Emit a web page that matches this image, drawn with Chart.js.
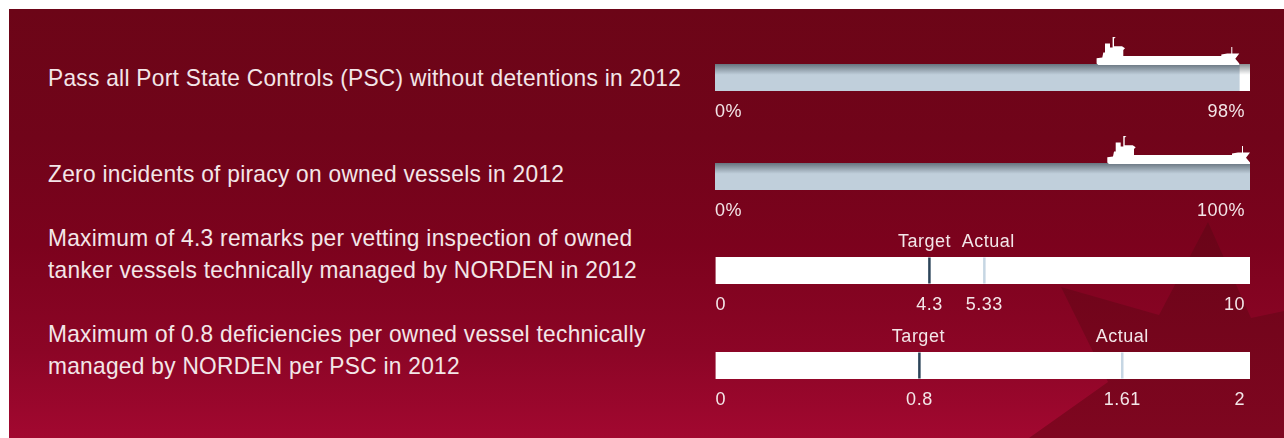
<!DOCTYPE html>
<html>
<head>
<meta charset="utf-8">
<script src="https://cdn.jsdelivr.net/npm/chart.js@4"></script>
<style>
    html, body { margin: 0; padding: 0; background: #fff; width: 1284px; height: 438px; overflow: hidden; }
    #panel {
        position: absolute; left: 9px; top: 9px; width: 1275px; height: 429px; overflow: hidden;
        background: linear-gradient(to bottom, #6c0517 0%, #71041a 30%, #7c021d 55%, #8c0526 80%, #a20830 100%);
    }
    #star {
        position: absolute; left: 0; top: 0; width: 1275px; height: 429px;
        background: linear-gradient(to bottom, #6a0418 50%, #7f0620 100%);
        clip-path: polygon(1199px 213px, 1242px 309px, 1275px 302px, 1275px 429px, 1020px 429px, 1099px 373px, 1052px 278px, 1150px 306px);
    }
    canvas { position: absolute; left: 700px; }
    .goal {
        position: absolute; left: 48px; color: #f3e6e8; font: 400 24px/32px "Liberation Sans", sans-serif;
        letter-spacing: 0.3px; white-space: pre; transform: scaleX(0.946); transform-origin: left top;
    }
</style>
</head>
<body>
<div id="panel"><div id="star"></div></div>
<script>
// KPI text and scale values, one entry per row
const goalLabels = [
    "Pass all Port State Controls (PSC) without detentions in 2012",
    "Zero incidents of piracy on owned vessels in 2012",
    "Maximum of 4.3 remarks per vetting inspection of owned\ntanker vessels technically managed by NORDEN in 2012",
    "Maximum of 0.8 deficiencies per owned vessel technically\nmanaged by NORDEN per PSC in 2012"
];
const achievedValues = [98, 100];
const targetValues = [4.3, 0.8];
const actualValues = [5.33, 1.61];
const scaleStarts = [0, 0, 0.29, -0.014];
const scaleEnds = [100, 100, 10.31, 2.12];
const tickValues = [[0, 98], [0, 100], [0, 4.3, 5.33, 10], [0, 0.8, 1.61, 2]];
const tickSuffixes = ["%", "%", "", ""];
const markerCaptions = ["Target", "Actual"];

// Vertical spot of each row's bar (top edge) and of the text beside it
const barTops = [64, 163, 257, 352];
const goalTops = [62, 158, 222, 318];
const captionNudges = [[-5, 4], [-1, 0]]; // captions sit slightly off their marker

const PAD_TOP = 30, PAD_BOTTOM = 32, PAD_LEFT = 15, PAD_RIGHT = 34, BAR_HEIGHT = 27;
const TEXT_COLOR = "#f3e6e8";
const LABEL_FONT = "400 18px 'Liberation Sans', sans-serif";

// Tanker silhouette, bow tip at 0,0 and waterline on the top of the bar
const shipPath = new Path2D("M0 0 L0 -1.5 L-4 -6.2 L0 -11.5 L-7 -11.5 L-7 -18 L-8 -18 L-8 -11.5 L-12 -11.5 L-18 -10.5 L-18 -9 L-116 -9 L-116 -15 L-114.300 -16.800 L-117.300 -18.800 L-125.300 -18.800 L-125.300 -26.500 L-123.500 -27.500 L-125.300 -28 L-126.700 -28 L-126.700 -17.500 L-129.300 -17.500 L-129.300 -21.500 L-134.300 -21.500 L-134.300 -12.500 L-136 -12.500 L-137 -7.500 L-142.700 -6.800 L-142.700 -1.500 L-141 0 Z");

function barGradient(context, colorTop, colorBottom) {
    const area = context.chart.chartArea;
    if (!area) return colorBottom;
    const gradient = context.chart.ctx.createLinearGradient(0, area.top, 0, area.bottom);
    gradient.addColorStop(0, colorTop);
    gradient.addColorStop(0.4, colorBottom);
    gradient.addColorStop(1, colorBottom);
    return gradient;
}

// Draws tick labels, marker captions and the ship from the x scale of each chart
const rowDecor = {
    id: "rowDecor",
    afterDraw(chart, args, opts) {
        const ctx = chart.ctx;
        const xScale = chart.scales.x;
        const area = chart.chartArea;
        ctx.save();
        ctx.fillStyle = TEXT_COLOR;
        ctx.font = LABEL_FONT;
        ctx.letterSpacing = "0.5px";
        ctx.textBaseline = "middle";
        xScale.ticks.forEach((tick, i) => {
            const last = xScale.ticks.length - 1;
            let x = xScale.getPixelForValue(tick.value);
            ctx.textAlign = "center";
            if (i === 0) { ctx.textAlign = "left"; x = area.left; }
            if (i === last) { ctx.textAlign = "right"; x = area.right - 5; }
            ctx.fillText(tick.label, x, area.bottom + 21);
        });
        if (opts.markers) {
            ctx.textAlign = "center";
            opts.markers.forEach((value, i) => {
                const x = xScale.getPixelForValue(value) + opts.nudges[i];
                ctx.fillText(markerCaptions[i], x, area.top - 15);
            });
        }
        if (opts.shipAt !== undefined) {
            ctx.translate(xScale.getPixelForValue(opts.shipAt), area.top + 1);
            ctx.fillStyle = "#ffffff";
            ctx.fill(shipPath);
        }
        ctx.restore();
    }
};

function rowOptions(row, stacked, pluginOptions) {
    return {
        indexAxis: "y",
        responsive: false,
        animation: false,
        layout: { padding: { top: PAD_TOP, bottom: PAD_BOTTOM, left: PAD_LEFT, right: PAD_RIGHT } },
        scales: {
            x: {
                display: false,
                stacked,
                min: scaleStarts[row],
                max: scaleEnds[row],
                afterBuildTicks: scale => { scale.ticks = tickValues[row].map(value => ({ value })); },
                ticks: { autoSkip: false, callback: value => value + tickSuffixes[row] }
            },
            y: { display: false, stacked }
        },
        plugins: { legend: { display: false }, tooltip: { enabled: false }, rowDecor: pluginOptions }
    };
}

function addCanvas(row) {
    const canvas = document.createElement("canvas");
    canvas.width = 584;
    canvas.height = PAD_TOP + BAR_HEIGHT + PAD_BOTTOM;
    canvas.style.top = (barTops[row] - PAD_TOP) + "px";
    document.body.appendChild(canvas);
    return canvas.getContext("2d");
}

// Rows 0 and 1: share achieved, with the remainder up to the scale end
achievedValues.forEach((value, row) => {
    new Chart(addCanvas(row), {
        type: "bar",
        data: {
            labels: [goalLabels[row]],
            datasets: [
                { data: [value], barPercentage: 1, categoryPercentage: 1,
                  backgroundColor: c => barGradient(c, "#67737e", "#c0cfdb") },
                { data: [scaleEnds[row] - value], barPercentage: 1, categoryPercentage: 1,
                  backgroundColor: c => barGradient(c, "#8b8f93", "#ffffff") }
            ]
        },
        options: rowOptions(row, true, { shipAt: value }),
        plugins: [rowDecor]
    });
});

// Rows 2 and 3: white scale with a target and an actual marker
targetValues.forEach((target, i) => {
    const row = i + 2;
    const label = goalLabels[row];
    const marker = (value, color) => ({
        type: "scatter",
        data: [{ x: value, y: label }],
        order: 0,
        pointStyle: "line",
        rotation: 90,
        radius: 13,
        borderWidth: 2.5,
        borderColor: color,
        backgroundColor: color
    });
    new Chart(addCanvas(row), {
        type: "bar",
        data: {
            labels: [label],
            datasets: [
                { data: [[scaleStarts[row], scaleEnds[row]]], order: 1, barPercentage: 1, categoryPercentage: 1, backgroundColor: "#ffffff" },
                marker(target, "#2c4459"),
                marker(actualValues[i], "#c6d6e3")
            ]
        },
        options: rowOptions(row, false, { markers: [target, actualValues[i]], nudges: captionNudges[i] }),
        plugins: [rowDecor]
    });
});

// Goal text on the left
goalLabels.forEach((text, row) => {
    const el = document.createElement("div");
    el.className = "goal";
    el.style.top = goalTops[row] + "px";
    el.textContent = text;
    document.body.appendChild(el);
});
</script>
</body>
</html>
